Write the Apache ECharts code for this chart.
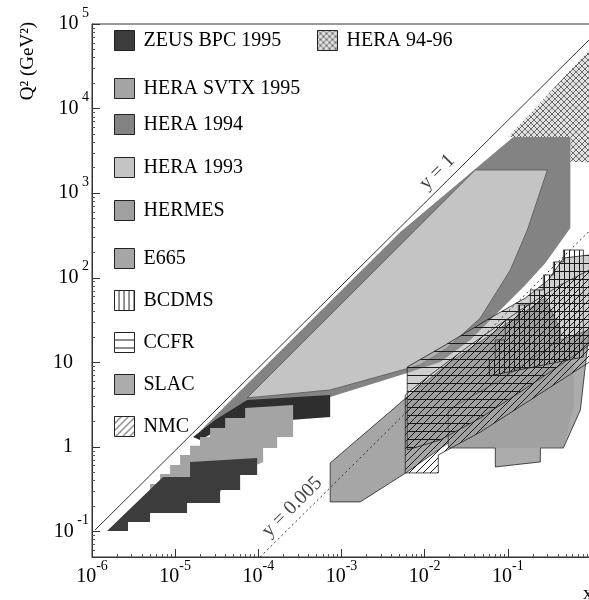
<!DOCTYPE html>
<html><head><meta charset="utf-8">
<script src="https://cdn.jsdelivr.net/npm/echarts@6/dist/echarts.min.js"></script>
<style>html,body{margin:0;padding:0;background:#fff}#c{width:589px;height:600px}</style>
</head><body><div id="c"></div>
<script>
// ---------- tick labels (exponents of ten) ----------
const xTickExp = [-6, -5, -4, -3, -2, -1];
const qTickExp = [-1, 0, 1, 2, 3, 4, 5];
const xRange = [1e-6, 1.0];
const qRange = [0.05, 1e5];

// ---------- regions: polygons of [x, Q2] ----------
const hera9496 = [[0.1014,4617],[1.0,52000],[1.0,2337],[0.565,2337],[0.565,4617]];
const hera1994 = [[1.99e-5,1.53],[6.94e-5,5.26],[5.09e-3,348],[0.1165,4617],[0.565,4617],[0.565,388],
  [0.2827,149.6],[0.1624,82.2],[8.12e-2,41.6],[3.54e-2,18.4],[1.541e-2,10.1],[6.17e-3,7.49],[7.31e-4,3.9],[7.96e-5,2.08]];
const hera1994LowQ2 = [[1.64e-5,1.313],[3.02e-5,2.08],[7.33e-5,3.59],[7.31e-4,4.12],[7.31e-4,2.26],
  [2.41e-4,2.08],[7.96e-5,1.82],[3.02e-5,1.50],[1.99e-5,1.21]];
const hera1993 = [[7.33e-5,3.8],[4.06e-2,1880],[0.2987,1880],[0.1717,367],[0.1071,123.7],[4.67e-2,33.5],
  [1.871e-2,14.8],[8.85e-3,9.31],[7.31e-4,4.72]];
const heraSvtx1995 = [[4.99e-6,0.294],[4.99e-6,0.365],[6.58e-6,0.365],[6.58e-6,0.48],[8.68e-6,0.48],[8.68e-6,0.613],
  [1.146e-5,0.613],[1.146e-5,0.804],[1.51e-5,0.804],[1.51e-5,1.03],[1.99e-5,1.03],[1.99e-5,1.313],[2.63e-5,1.313],
  [2.63e-5,1.68],[3.99e-5,1.68],[3.99e-5,2.2],[6.94e-5,2.2],[6.94e-5,2.89],[2.62e-4,3.14],[2.62e-4,1.313],
  [1.683e-4,1.313],[1.683e-4,0.973],[1.142e-4,0.973],[1.142e-4,0.665],[6.94e-5,0.535],[4.58e-5,0.407],[3.47e-5,0.294]];
const zeusBpc1995 = [[1.515e-6,0.1016],[7.15e-6,0.442],[1.51e-5,0.442],[1.51e-5,0.665],[9.67e-5,0.741],[9.67e-5,0.467],
  [6.04e-5,0.467],[6.04e-5,0.31],[3.47e-5,0.31],[3.47e-5,0.218],[1.39e-5,0.218],[1.39e-5,0.166],[4.99e-6,0.166],
  [4.99e-6,0.13],[2.71e-6,0.13],[2.71e-6,0.1016]];
const e665 = [[7.31e-4,0.647],[6.17e-3,3.9],[2.03e-2,10.1],[8.12e-2,25.5],[0.2827,57.7],[0.4283,24.2],[0.4283,14.02],
  [4.67e-2,2.08],[6.17e-3,0.506],[1.679e-3,0.224],[7.31e-4,0.224]];
const slac = [[1.923e-2,0.973],[7.07e-2,0.973],[7.07e-2,0.58],[0.246,0.665],[0.246,0.973],[0.4655,0.973],
  [0.7455,2.74],[0.957,24.2],[0.4283,18.4],[8.12e-2,6.19],[1.923e-2,2.74]];
const hermes = [[1.923e-2,0.973],[0.4655,0.973],[0.62,3.0],[0.62,10.0],[0.2,8.0],[5.0e-2,3.0],[1.923e-2,1.6]];
const nmc = [[5.84e-3,0.493],[1.458e-2,0.493],[1.458e-2,0.804],[4.67e-2,1.50],[0.1866,3.59],[0.957,10.1],
  [0.957,123.7],[0.4283,82.2],[0.1414,41.6],[3.54e-2,16.06],[1.168e-2,7.10],[5.84e-3,4.12]];
const ccfr = [[6.17e-3,8.82],[1.77e-2,16.06],[6.16e-2,33.5],[0.1624,57.7],[0.3072,94.2],[0.4655,171],[0.957,186],
  [0.957,16.06],[0.4283,9.31],[0.1414,4.47],[4.67e-2,2.2],[1.541e-2,1.21],[6.17e-3,0.921]];
const bcdms = [[5.99e-2,6.91],[0.81,11.58],[0.81,213],[0.4655,213],[0.4655,153.8],[0.3528,153.8],[0.3528,107.9],
  [0.2674,107.9],[0.2674,71.7],[0.1866,71.7],[0.1866,47.7],[0.1338,47.7],[0.1338,31.7],[9.33e-2,31.7],
  [9.33e-2,18.4],[7.07e-2,18.4],[7.07e-2,10.68],[5.99e-2,10.68]];

// kinematic limit lines (two end points each) and their label anchors
const lineY1 = [[1.09e-6,0.1045],[1.0,68300]];
const lineY005 = [[1.05e-4,0.05],[0.957,357]];
const labelY1 = [1.42e-2, 1778];
const labelY005 = [2.55e-4, 0.195];

const legendNames = ['ZEUS BPC 1995','HERA SVTX 1995','HERA 1994','HERA 1993','HERMES','E665','BCDMS','CCFR','SLAC','NMC','HERA 94-96'];

// minor tick values (2..9 times each decade), as exponents
const xMinor = [], qMinor = [];
for (let e = -6; e <= -1; e++) for (let k = 2; k <= 9; k++) xMinor.push(Math.log10(k) + e);
for (let e = -2; e <= 4; e++) for (let k = 2; k <= 9; k++) { const v = Math.log10(k) + e; if (v > Math.log10(0.05) && v < 5) qMinor.push(v); }

// ---------- styles ----------
function pat(w, h, color, bg, draw) {
  const c = document.createElement('canvas'); c.width = w; c.height = h;
  const g = c.getContext('2d');
  if (bg) { g.fillStyle = bg; g.fillRect(0, 0, w, h); }
  g.strokeStyle = color; g.lineWidth = 1; draw(g, w, h);
  return { image: c, repeat: 'repeat' };
}
const hLines = (g, w, h) => { g.beginPath(); g.moveTo(0, 7.5); g.lineTo(w, 7.5); g.stroke(); };
const P = {
  cross: pat(6, 6, '#6a6a6a', 'rgba(170,170,170,0.35)', (g, w, h) => {
    g.beginPath(); g.moveTo(0, 0); g.lineTo(w, h); g.moveTo(w, 0); g.lineTo(0, h); g.stroke();
  }),
  diag: pat(7, 7, '#1a1a1a', null, (g, w, h) => {
    g.beginPath(); g.moveTo(-1, h + 1); g.lineTo(w + 1, -1); g.moveTo(-1, 1); g.lineTo(1, -1);
    g.moveTo(w - 1, h + 1); g.lineTo(w + 1, h - 1); g.stroke();
  }),
  horiz: pat(8, 8, '#1a1a1a', null, hLines),
  horizShaded: pat(8, 8, '#1a1a1a', 'rgba(150,150,150,0.45)', hLines),
  vert: pat(5, 5, '#1a1a1a', null, (g, w, h) => { g.beginPath(); g.moveTo(4.5, 0); g.lineTo(4.5, h); g.stroke(); })
};

const regions = [
  { name: 'HERA 94-96', polys: [hera9496], fills: [P.cross], stroke: null },
  { name: 'HERA 1994', polys: [hera1994, hera1994LowQ2], fills: ['#838383', '#2e2e2e'], stroke: null },
  { name: 'HERA 1993', polys: [hera1993], fills: ['#c4c4c4'], stroke: '#555' },
  { name: 'HERA SVTX 1995', polys: [heraSvtx1995], fills: ['#a4a4a4'], stroke: null },
  { name: 'ZEUS BPC 1995', polys: [zeusBpc1995], fills: ['#3c3c3c'], stroke: null },
  { name: 'E665', polys: [e665], fills: ['#a6a6a6'], stroke: '#222' },
  { name: 'SLAC', polys: [slac], fills: ['#acacac'], stroke: '#222' },
  { name: 'HERMES', polys: [hermes], fills: ['rgba(140,140,140,0.35)'], stroke: null },
  { name: 'CCFR', polys: [ccfr], fills: [P.horizShaded], stroke: '#222', icon: P.horiz },
  { name: 'NMC', polys: [nmc], fills: [P.diag], stroke: '#222' },
  { name: 'BCDMS', polys: [bcdms], fills: [P.vert], stroke: '#222' }
];

const L = v => Math.log10(v);
const serif = "'Liberation Serif','DejaVu Serif',serif";

const series = regions.map(r => ({
  type: 'custom', name: r.name, coordinateSystem: 'cartesian2d', clip: true, silent: true,
  itemStyle: { color: r.icon || (r.name === 'HERMES' ? '#a0a0a0' : r.fills[0]), borderColor: '#222', borderWidth: 1 },
  data: r.polys.map(() => [-3, 1]),
  renderItem: (params, api) => {
    const poly = r.polys[params.dataIndex];
    const pts = poly.map(p => api.coord([L(p[0]), L(p[1])]));
    return { type: 'polygon', shape: { points: pts },
      style: { fill: r.fills[params.dataIndex], stroke: r.stroke || 'none', lineWidth: 0.8 } };
  }
}));

// the two limit lines live on the second (identical) grid so its minor-tick axes have data
series.push({
  type: 'line', name: 'y=1', silent: true, symbol: 'none', xAxisIndex: 1, yAxisIndex: 1,
  data: lineY1.map(p => [L(p[0]), L(p[1])]), lineStyle: { color: '#333', width: 1 }, z: 5
});
series.push({
  type: 'line', name: 'y=0.005', silent: true, symbol: 'none', xAxisIndex: 1, yAxisIndex: 1,
  data: lineY005.map(p => [L(p[0]), L(p[1])]), lineStyle: { color: '#333', width: 1, type: [2, 3] }, z: 5
});
series.push({
  type: 'scatter', silent: true, symbolSize: 0, z: 6,
  data: [
    { value: [L(labelY1[0]), L(labelY1[1])], label: { formatter: 'y = 1' } },
    { value: [L(labelY005[0]), L(labelY005[1])], label: { formatter: 'y = 0.005' } }
  ],
  label: { show: true, position: 'inside', rotate: 45, fontFamily: serif, fontSize: 20, color: '#111' }
});

const legendPos = [[114,40],[114,88],[114,124],[114,167],[114,210],[114,258],[114,300],[114,342],[114,384],[114,426],[317,40]];
const legends = legendNames.map((n, i) => ({
  show: true, left: legendPos[i][0], top: legendPos[i][1] - 10, padding: 0, selectedMode: false,
  itemWidth: 20, itemHeight: 20, data: [n], icon: 'rect',
  itemStyle: { borderColor: '#222', borderWidth: 1 },
  textStyle: { fontFamily: serif, fontSize: 20, color: '#000', padding: [0, 0, 0, 4] }
}));

const richLab = {
  a: { fontFamily: serif, fontSize: 20, color: '#000', lineHeight: 20, verticalAlign: 'bottom' },
  b: { fontFamily: serif, fontSize: 14, color: '#000', lineHeight: 28, verticalAlign: 'top' },
  s: { width: 16, lineHeight: 28, verticalAlign: 'top' }
};
const axisCommon = {
  axisLine: { show: true, onZero: false, lineStyle: { color: '#333' } },
  splitLine: { show: false }
};
const gridBox = { left: 92, right: -2, top: 24, bottom: 43, containLabel: false, outerBoundsMode: 'none' };

const option = {
  animation: false,
  backgroundColor: '#fff',
  grid: [
    { ...gridBox, show: true, borderColor: '#333', borderWidth: 1 },
    { ...gridBox, show: false }
  ],
  legend: legends,
  xAxis: [{
    type: 'value', gridIndex: 0, min: L(xRange[0]), max: L(xRange[1]), ...axisCommon,
    axisTick: { show: true, inside: true, length: 8, customValues: xTickExp, lineStyle: { color: '#333' } },
    axisLabel: { show: true, margin: 2, customValues: xTickExp, formatter: v => `{a|10}{b|${v}}`, rich: richLab },
    name: 'x', nameLocation: 'end', nameGap: -8,
    nameTextStyle: { fontFamily: serif, fontSize: 19, color: '#000', verticalAlign: 'top', align: 'left', padding: [28, 0, 0, 0] }
  }, {
    type: 'value', gridIndex: 1, min: L(xRange[0]), max: L(xRange[1]), position: 'bottom', ...axisCommon,
    axisLine: { show: false, onZero: false },
    axisTick: { show: true, inside: true, length: 3, customValues: xMinor, lineStyle: { color: '#555' } },
    axisLabel: { show: false, customValues: xMinor }
  }],
  yAxis: [{
    type: 'value', gridIndex: 0, min: L(qRange[0]), max: L(qRange[1]), ...axisCommon,
    axisTick: { show: true, inside: true, length: 8, customValues: qTickExp, lineStyle: { color: '#333' } },
    axisLabel: { show: true, margin: 3, customValues: qTickExp, padding: [0, 0, 8, 0],
      formatter: v => v === 0 ? '{a|1}{s|}' : (v === 1 ? '{a|10}{s|}' : `{a|10}{b| ${v}}`), rich: richLab }
  }, {
    type: 'value', gridIndex: 1, min: L(qRange[0]), max: L(qRange[1]), position: 'left', ...axisCommon,
    axisLine: { show: false, onZero: false },
    axisTick: { show: true, inside: true, length: 3, customValues: qMinor, lineStyle: { color: '#555' } },
    axisLabel: { show: false, customValues: qMinor }
  }],
  graphic: [{
    type: 'text', x: 28, y: 61, rotation: Math.PI / 2,
    style: { text: 'Q² (GeV²)', fontFamily: serif, fontSize: 19, fill: '#000', align: 'center', verticalAlign: 'middle',
      textAlign: 'center', textVerticalAlign: 'middle' }
  }],
  series
};

const chart = echarts.init(document.getElementById('c'), null, { renderer: 'canvas' });
chart.setOption(option);
</script></body></html>
